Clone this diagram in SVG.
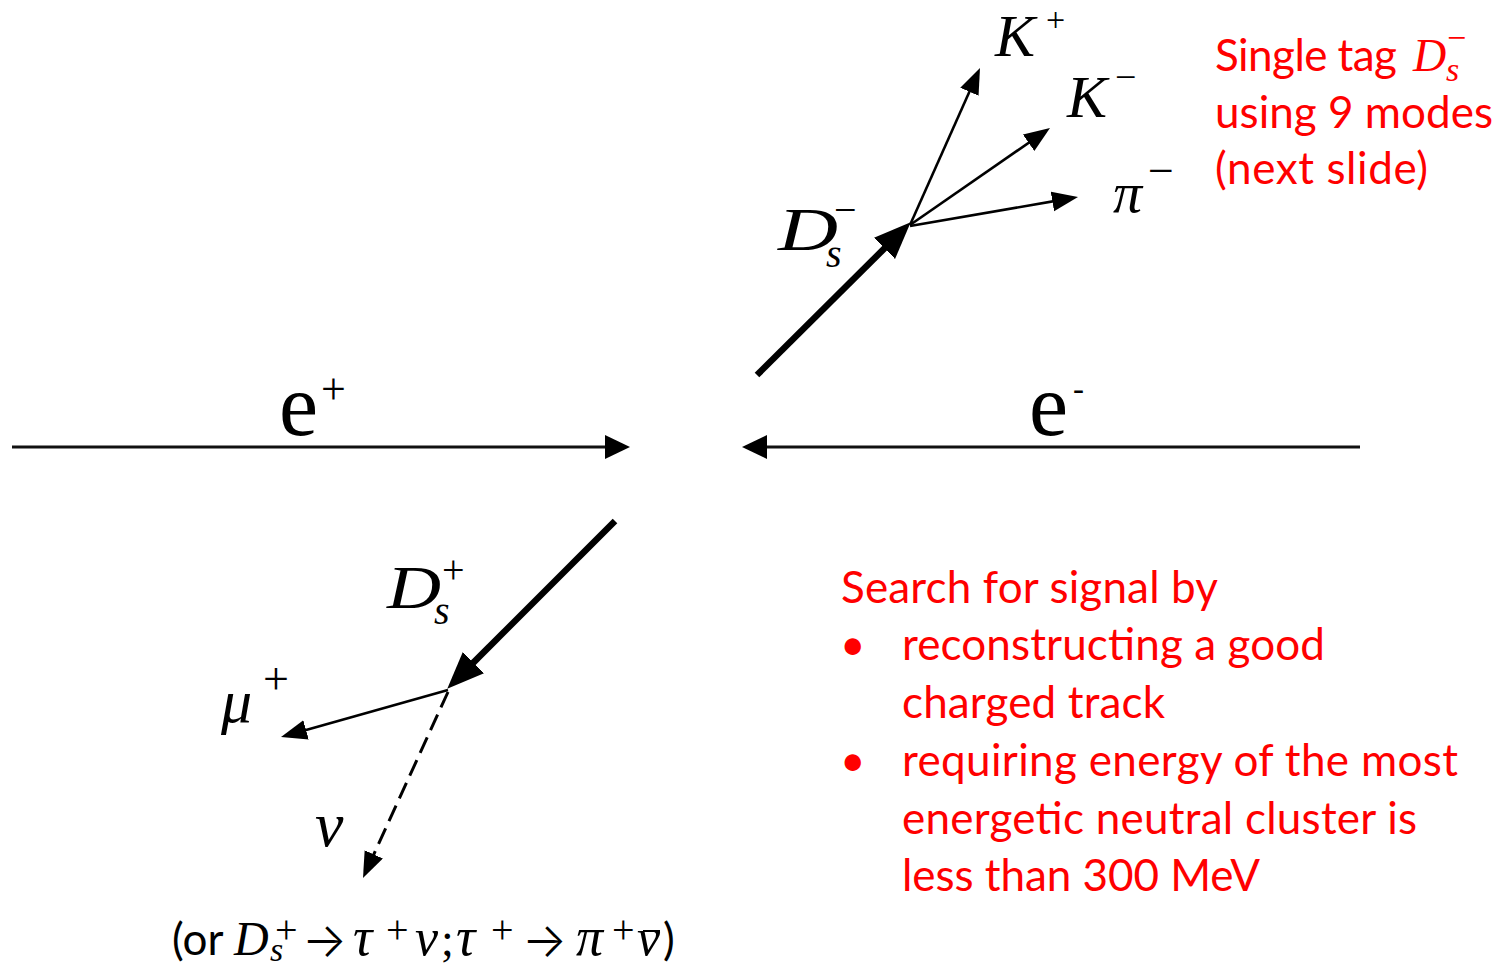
<svg xmlns="http://www.w3.org/2000/svg" width="1505" height="963" viewBox="0 0 1505 963">
<defs>
<style>
.serif{font-family:"Liberation Serif","Times New Roman",serif;fill:#000}
.it{font-style:italic}
.arr{font-family:Inter,"DejaVu Sans",sans-serif;font-weight:300;fill:#000}
.red{font-family:Lato,"Open Sans",sans-serif;font-size:44px;fill:#FF0000}
.beam{stroke:#111;stroke-width:3;fill:none}
.thick{stroke:#000;stroke-width:6.5;fill:none}
.thin{stroke:#000;stroke-width:2.6;fill:none}
.dash{stroke:#000;stroke-width:3;fill:none;stroke-dasharray:17 8}
</style>
<marker id="headBeam" markerUnits="userSpaceOnUse" markerWidth="26" markerHeight="26" refX="13" refY="12" orient="auto" viewBox="0 0 26 26">
<path d="M0,0 L25,12 L0,24 z" fill="#000"/>
</marker>
<marker id="headThick" markerUnits="userSpaceOnUse" markerWidth="38" markerHeight="32" refX="16" refY="15" orient="auto" viewBox="0 0 38 32">
<path d="M0,0 L37,15 L0,30 z" fill="#000"/>
</marker>
<marker id="headThin" markerUnits="userSpaceOnUse" markerWidth="28" markerHeight="22" refX="12" refY="10" orient="auto" viewBox="0 0 28 22">
<path d="M0,0 L26,10 L0,20 z" fill="#000"/>
</marker>
</defs>
<rect width="1505" height="963" fill="#fff"/>

<g id="connectors">
<line class="beam" x1="12" y1="447" x2="618" y2="447" marker-end="url(#headBeam)"/>
<line class="beam" x1="1360" y1="447" x2="754" y2="447" marker-end="url(#headBeam)"/>
<line class="thick" x1="757" y1="375" x2="895.8" y2="237.1" marker-end="url(#headThick)"/>
<line class="thin" x1="910" y1="225" x2="974.3" y2="80.8" marker-end="url(#headThin)"/>
<line class="thin" x1="910" y1="225" x2="1038.5" y2="136" marker-end="url(#headThin)"/>
<line class="thin" x1="910" y1="226" x2="1064.2" y2="199.4" marker-end="url(#headThin)"/>
<line class="thick" x1="615" y1="521" x2="462.1" y2="673.9" marker-end="url(#headThick)"/>
<line class="thin" x1="448" y1="690" x2="294.5" y2="733.2" marker-end="url(#headThin)"/>
<line class="dash" x1="448" y1="692" x2="368.8" y2="865.3" marker-end="url(#headThin)"/>
</g>

<g id="e-plus">
<text class="serif" x="279" y="435" font-size="88">e</text>
<text class="serif" x="321" y="404" font-size="44">+</text>
</g>
<g id="e-minus">
<text class="serif" x="1029" y="435" font-size="88">e</text>
<text class="serif" x="1073" y="400" font-size="33">-</text>
</g>

<g id="Ds-minus">
<text class="serif it" x="778" y="250" font-size="62" textLength="60" lengthAdjust="spacingAndGlyphs">D</text>
<text class="serif it" x="826" y="267" font-size="40">s</text>
<text class="serif" x="834" y="223" font-size="40">−</text>
</g>
<g id="K-plus">
<text class="serif it" x="995" y="56" font-size="60">K</text>
<text class="serif" x="1046" y="31" font-size="34">+</text>
</g>
<g id="K-minus">
<text class="serif it" x="1067" y="117" font-size="60">K</text>
<text class="serif" x="1115" y="90" font-size="38">−</text>
</g>
<g id="pi-minus">
<text class="serif it" x="1113" y="212" font-size="58">π</text>
<text class="serif" x="1148" y="186" font-size="46">−</text>
</g>

<g id="Ds-plus">
<text class="serif it" x="387" y="608" font-size="62" textLength="54" lengthAdjust="spacingAndGlyphs">D</text>
<text class="serif it" x="434" y="624" font-size="40">s</text>
<text class="serif" x="442" y="583" font-size="40">+</text>
</g>
<g id="mu-plus">
<text class="serif it" x="221" y="722" font-size="62">μ</text>
<text class="serif" x="263" y="694" font-size="46">+</text>
</g>
<g id="nu">
<text class="serif it" x="315" y="846" font-size="64">ν</text>
</g>

<g id="alt-decay">
<text class="red" style="fill:#000" x="172" y="955">(or</text>
<text class="serif it" x="234" y="955" font-size="48">D</text>
<text class="serif it" x="270" y="961" font-size="34">s</text>
<text class="serif" x="275" y="943" font-size="40">+</text>
<text class="arr" x="302" y="957" font-size="48" textLength="45" lengthAdjust="spacingAndGlyphs">→</text>
<text class="serif it" x="353" y="955" font-size="54">τ</text>
<text class="serif" x="386" y="943" font-size="40">+</text>
<text class="serif it" x="415" y="955" font-size="52">ν</text>
<text class="serif" x="441" y="955" font-size="46">;</text>
<text class="serif it" x="456" y="955" font-size="54">τ</text>
<text class="serif" x="491" y="943" font-size="40">+</text>
<text class="arr" x="522" y="957" font-size="48" textLength="45" lengthAdjust="spacingAndGlyphs">→</text>
<text class="serif it" x="576" y="955" font-size="54">π</text>
<text class="serif" x="612" y="943" font-size="40">+</text>
<text class="serif it" x="637" y="955" font-size="52">ν</text>
<line x1="643" y1="931" x2="660" y2="931" stroke="#000" stroke-width="2"/>
<text class="red" style="fill:#000" x="663" y="955">)</text>
</g>

<g id="tag-note">
<text class="red" x="1215" y="71" textLength="182">Single tag</text>
<text class="serif it" x="1413" y="71" font-size="46" style="fill:#FF0000">D</text>
<text class="serif it" x="1446" y="81" font-size="34" style="fill:#FF0000">s</text>
<text class="serif" x="1447" y="49" font-size="34" style="fill:#FF0000">−</text>
<text class="red" x="1215" y="128" textLength="278">using 9 modes</text>
<text class="red" x="1215" y="184" textLength="213">(next slide)</text>
</g>

<g id="search-note">
<text class="red" x="841" y="603" textLength="377">Search for signal by</text>
<text class="red" x="840" y="660">•</text>
<text class="red" x="902" y="660" textLength="423">reconstructing a good</text>
<text class="red" x="902" y="718" textLength="263">charged track</text>
<text class="red" x="840" y="776">•</text>
<text class="red" x="902" y="776" textLength="556">requiring energy of the most</text>
<text class="red" x="902" y="834" textLength="515">energetic neutral cluster is</text>
<text class="red" x="902" y="891" textLength="358">less than 300 MeV</text>
</g>
</svg>
